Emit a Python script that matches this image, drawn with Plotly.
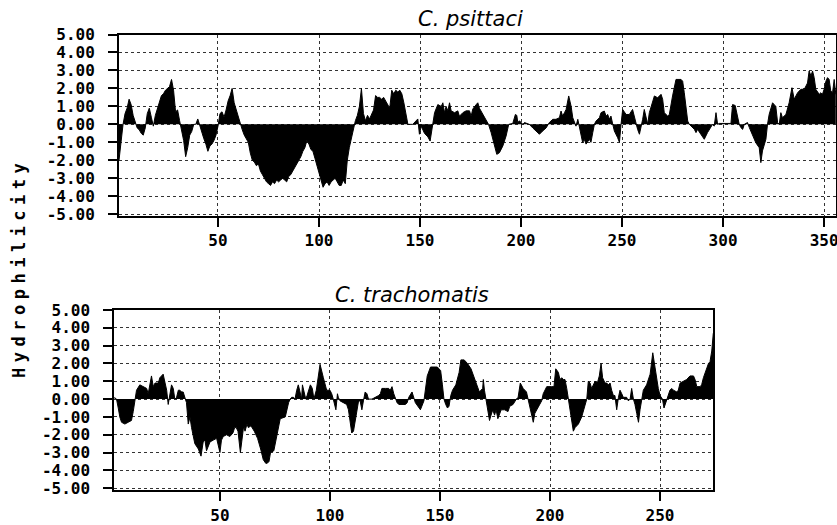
import plotly.graph_objects as go

# ---- C. psittaci (top) : residue position, hydrophilicity ----
psittaci_pos = [1, 2, 3, 4, 5, 6, 7, 8, 9, 10, 11, 12, 13, 14, 15, 16, 17, 18, 19, 20,
                21, 22, 23, 24, 25, 26, 27, 28, 29, 30, 31, 32, 33, 34, 35, 36, 37, 38, 39, 40,
                41, 42, 43, 44, 45, 46, 47, 48, 49, 50, 51, 52, 53, 54, 55, 56, 57, 58, 59, 60,
                61, 62, 63, 64, 65, 66, 67, 68, 69, 70, 71, 72, 73, 74, 75, 76, 77, 78, 79, 80,
                81, 82, 83, 84, 85, 86, 87, 88, 89, 90, 91, 92, 93, 94, 95, 96, 97, 98, 99, 100,
                101, 102, 103, 104, 105, 106, 107, 108, 109, 110, 111, 112, 113, 114, 115, 116, 117, 118, 119, 120,
                121, 122, 123, 124, 125, 126, 127, 128, 129, 130, 131, 132, 133, 134, 135, 136, 137, 138, 139, 140,
                141, 142, 143, 144,
                146.4, 148.9, 149.7, 150.6, 152.2, 153.9, 155.0, 156.3, 157.2, 158.8, 160.5, 161.3, 162.1, 162.9,
                163.8, 164.6, 165.4, 167.1, 168.7, 169.5, 171.2, 172.8, 174.5, 175.3, 176.1, 177.8, 178.6, 179.4,
                181.1, 182.7, 183.9, 185.2, 186.8, 188.0, 189.3, 191.0, 192.6, 193.9, 195.9, 197.2, 197.9, 198.4,
                199.2, 200.9, 201.7, 204.1, 205.8, 207.4, 209.1, 210.7, 212.4, 214.0, 215.7, 217.3, 219.0, 219.8,
                220.6, 221.5, 222.3, 223.6, 224.8, 225.6, 226.4, 227.2, 228.1, 228.9, 229.7, 230.5, 231.3, 232.2,
                233.8, 234.6, 235.5, 236.3, 237.1, 238.8, 239.6, 241.2, 242.1, 242.9, 243.7, 244.5, 245.4, 246.2,
                247.8, 248.7, 249.5, 250.3, 252.0, 253.6, 255.2, 256.1, 256.9, 257.7, 258.6, 259.4, 260.2, 261.0,
                261.8, 262.7, 263.5, 265.1, 266.0, 267.6, 269.3, 270.1, 270.9, 272.6, 273.4, 275.0, 276.7, 279.2,
                280.0, 280.8, 281.6, 282.5, 283.3, 284.1, 285.8, 286.6, 287.4, 289.0, 290.7, 292.3, 294.0, 294.8,
                295.6, 296.5, 297.3, 298.1, 303.9, 304.7, 306.0, 307.2, 308.0, 308.8, 309.7, 310.5, 312.1, 313.0,
                314.6, 316.2, 317.9, 318.7, 319.5, 320.4, 321.2, 322.0, 322.8, 324.5, 326.1, 327.0, 327.8, 328.6,
                329.4, 331.1, 332.7, 334.1, 335.2, 336.9, 338.5, 340.2, 341.8, 342.6, 343.5, 344.3, 345.1, 345.9,
                347.6, 348.4, 349.2, 350.0, 350.9, 351.7, 352.5, 353.3, 354.2, 355.0, 355.8]
psittaci_val = [-2.0, -0.8, 0.0, 0.6, 0.9, 1.4, 1.1, 0.5, 0.1, -0.2, -0.3, -0.5, -0.6, -0.2, 0.6, 0.9, 0.4, -0.1, 0.5, 0.9,
                1.3, 1.6, 1.7, 1.9, 2.0, 2.1, 2.5, 1.9, 0.7, 0.8, 0.2, -0.3, -0.9, -1.8, -1.3, -0.6, -0.4, 0.0, 0.0, 0.3,
                -0.1, -0.5, -0.8, -1.1, -1.5, -1.2, -1.1, -0.9, -0.6, -0.1, 0.6, 0.7, 0.4, 0.8, 1.3, 1.6, 2.0, 1.2, 0.8, 0.5,
                0.0, -0.3, -0.6, -0.8, -1.0, -1.6, -2.0, -2.1, -2.3, -2.2, -2.6, -2.8, -3.0, -3.2, -3.3, -3.4, -3.2, -3.3, -3.1, -3.2,
                -3.1, -3.0, -3.1, -3.2, -2.9, -2.8, -2.6, -2.4, -2.2, -2.0, -1.8, -1.5, -1.3, -0.9, -1.1, -1.4, -1.5, -1.9, -2.3, -2.6,
                -3.1, -3.5, -3.3, -3.2, -3.4, -3.2, -3.1, -3.0, -3.2, -3.4, -3.4, -3.1, -3.3, -2.0, -1.3, -0.8, -0.3, 0.2, 0.5, 1.0,
                2.0, 0.6, 0.2, 0.5, 0.3, 0.6, 0.8, 1.6, 1.5, 1.5, 1.4, 1.5, 1.3, 1.1, 0.9, 1.9, 1.7, 1.9, 1.8, 1.9,
                1.7, 1.2, 0.5, 0.0,
                0.0, 0.3, -0.55, -0.1, -0.5, -0.7, -0.93, -0.1, 0.65, 1.1, 1.0, 1.2, 0.65, 1.0,
                0.75, 1.2, 0.75, 0.65, 0.75, 0.45, 0.65, 0.75, 0.75, 0.45, 0.85, 1.1, 1.2, 0.9,
                0.55, 0.2, 0.0, -0.46, -1.2, -1.67, -1.58, -1.2, -0.65, 0.0, 0.05, 0.55, 0.5, 0.1,
                0.2, 0.0, 0.1, 0.0, -0.2, -0.37, -0.55, -0.37, -0.2, 0.1, 0.28, 0.28, 0.37, 0.74,
                0.46, 0.65, 0.83, 1.58, 1.0, 0.37, 0.1, -0.1, 0.28, -0.2, -0.65, -1.02, -0.83, -1.1,
                -0.83, -1.0, -0.46, 0.0, 0.18, 0.37, 0.65, 0.74, 0.46, 0.55, 0.28, 0.46, 0.0, -0.37,
                -0.74, -1.0, 0.0, 0.83, 0.55, 0.55, 0.83, 0.37, 0.0, -0.28, -0.55, -0.18, 0.28, 0.83,
                0.37, 0.0, 0.65, 1.2, 1.58, 1.48, 1.67, 1.39, 0.65, 0.46, 0.55, 1.58, 2.5, 2.5,
                2.4, 1.76, 0.83, 0.18, 0.0, -0.1, -0.28, -0.46, -0.28, -0.55, -0.83, -0.46, -0.1, 0.0,
                -0.1, 0.65, 0.0, 0.05, 0.05, 1.1, 1.05, 0.46, 0.0, -0.18, -0.28, 0.0, 0.1, -0.18,
                -0.65, -1.02, -1.3, -2.13, -1.48, -1.11, -0.83, 0.0, 0.55, 1.2, 1.0, 0.1, 0.0, 0.65,
                0.37, 0.55, 1.2, 2.04, 1.4, 1.76, 1.95, 1.95, 2.3, 2.97, 2.7, 2.97, 2.6, 1.95,
                1.67, 1.76, 1.67, 1.95, 2.4, 2.6, 2.5, 1.86, 1.76, 2.5, 1.67]

# ---- C. trachomatis (bottom) ----
trach_pos = [2.0, 3.0, 3.8, 4.5, 5.3, 6.8, 8.3, 9.8, 10.6, 11.4, 12.1, 13.6, 15.2, 16.7, 17.4, 18.2, 18.9, 19.7,
             20.5, 22.0, 22.7, 24.2, 25.0, 25.8, 26.5, 27.3, 28.0, 28.8, 29.5, 30.3, 31.1, 31.8, 32.6, 33.3,
             34.1, 34.8, 35.6, 36.4, 37.1, 37.9, 38.6, 40.2, 41.4, 42.4, 43.2, 43.9, 44.7, 45.5, 47.0, 48.5,
             50.0, 50.7, 51.5, 53.0, 54.5, 55.9, 56.7, 57.4, 58.2, 58.9, 59.3, 59.9, 60.8, 61.4, 62.3, 62.9,
             64.1, 65.6, 67.1, 68.5, 69.7, 70.8, 71.5, 72.3, 73.0, 74.5, 75.2, 76.0, 76.7, 77.4, 79.7, 80.4,
             81.2, 81.9, 82.6, 83.4, 84.1, 84.9, 85.6, 86.4, 87.1, 87.5, 88.3, 89.0, 89.6, 90.5, 91.1, 92.0,
             92.7, 93.8, 94.5, 95.5, 97.0, 97.7, 98.5, 100.0, 100.8, 101.5, 102.3, 102.7, 103.4, 103.8, 104.6,
             106.1, 107.6, 108.4, 109.1, 109.9, 110.7, 111.4, 112.2, 113.0, 113.7, 114.5, 115.2, 116.0, 116.8,
             117.5, 119.1, 120.6, 121.3, 122.1, 122.9, 123.6, 125.2, 126.7, 127.4, 128.2, 129.0, 129.7, 130.5,
             131.3, 134.3, 135.1, 135.8, 137.3, 138.8, 141.1, 142.7, 144.2, 145.7, 148.8, 150.3, 151.1, 151.8,
             152.6, 153.4, 154.1, 154.9, 155.7, 157.2, 158.7, 159.5, 161.0, 162.5, 164.1, 165.6, 167.1, 167.9,
             169.4, 169.7, 170.2, 170.9, 171.7, 172.5, 173.2, 174.0, 174.8, 175.5, 176.3, 177.1, 177.8, 179.4,
             180.9, 181.7, 183.2, 184.7, 185.5, 186.5, 187.8, 189.3, 190.1, 190.8, 191.6, 192.4, 193.1, 194.6,
             196.2, 196.9, 198.5, 200.8, 201.8, 202.6, 203.8, 204.5, 205.3, 206.1, 206.8, 207.6, 208.3, 209.1,
             209.8, 210.6, 211.4, 212.9, 214.4, 215.9, 216.7, 217.4, 218.2, 218.9, 220.5, 221.5, 222.4, 223.2,
             223.9, 225.0, 225.8, 226.5, 227.3, 228.0, 228.8, 229.5, 230.3, 231.1, 231.8, 232.6, 233.3, 234.8,
             235.6, 236.4, 237.1, 237.9, 238.6, 239.4, 240.2, 240.9, 241.7, 242.4, 243.9, 245.5, 246.7, 247.7,
             248.5, 249.2, 250.0, 251.1, 251.8, 252.6, 253.3, 254.5, 255.3, 256.1, 257.6, 258.3, 259.1, 260.6,
             262.1, 263.6, 265.2, 265.9, 266.7, 268.2, 268.9, 269.7, 271.2, 272.0, 272.7, 273.5, 274.2]
trach_val = [0.1, 0.0, -0.5, -1.0, -1.3, -1.4, -1.3, -1.2, -0.7, 0.0, 0.5, 0.8, 0.7, 0.6, 0.3, 0.8, 1.3, 0.7,
             0.9, 0.9, 1.2, 1.4, 1.0, 0.5, -0.3, 0.2, 0.8, 0.6, 0.0, 0.1, 0.5, 0.5, 0.4, 0.4,
             0.0, -0.2, -1.4, -1.0, -1.6, -2.0, -2.5, -2.8, -3.2, -2.4, -2.3, -2.9, -2.6, -2.4, -2.3, -2.2,
             -3.0, -2.3, -2.1, -2.0, -2.1, -1.9, -1.6, -1.6, -1.8, -2.5, -3.0, -2.4, -1.5, -1.8, -1.4, -1.6,
             -1.5, -1.8, -2.2, -2.8, -3.4, -3.6, -3.6, -3.5, -3.0, -2.9, -2.5, -2.0, -1.5, -1.1, -1.0, -0.6,
             -0.2, 0.0, 0.1, 0.1, 0.0, 0.5, 0.8, 0.4, 0.0, 0.8, 0.3, 0.0, 0.2, 0.5, 0.8, 0.6,
             0.0, 0.5, 1.0, 1.95, 1.2, 0.8, 0.5, 0.5, 0.3, 0.0, -0.5, -0.6, 0.3, 0.1, -0.1,
             -0.2, -0.3, -0.6, -1.2, -1.9, -1.8, -1.2, -0.5, -0.1, -0.1, -0.6, -0.1, 0.4, 0.3,
             0.0, 0.0, 0.1, 0.1, 0.2, 0.3, 0.6, 0.6, 0.6, 0.5, 0.7, 0.3, 0.1, -0.2,
             -0.3, -0.3, -0.2, 0.1, 0.4, -0.2, -0.6, -0.1, 1.3, 1.8, 1.8, 1.6, 0.8, 0.0,
             -0.3, -0.5, -0.4, 0.2, 0.5, 0.8, 1.5, 2.2, 2.2, 2.0, 1.7, 1.2, 0.7, 0.4,
             0.6, 1.1, 0.5, 0.0, -0.5, -1.2, -0.9, -0.6, -0.9, -0.6, -1.1, -0.8, -0.6, -0.6,
             -0.7, -0.4, -0.3, 0.0, 0.1, 0.9, 0.6, 0.4, 0.0, -0.4, -0.9, -1.3, -0.8, -0.5,
             -0.1, 0.3, 0.7, 0.7, 0.7, 1.7, 1.5, 1.1, 1.2, 1.1, 1.1, 0.6, 0.0, -0.5,
             -1.0, -1.8, -1.6, -1.4, -1.0, -0.3, 0.0, 1.0, 0.9, 0.6, 1.0, 0.9, 1.3, 2.0,
             1.2, 0.9, 0.9, 0.8, 0.9, 0.5, 0.2, 0.2, -0.6, 0.1, 0.5, 0.3, 0.1, 0.1,
             -0.1, 0.0, 0.6, 0.0, -0.3, -0.8, -1.3, -0.6, 0.0, 0.5, 0.8, 1.4, 2.6, 1.8,
             1.0, 0.6, 0.2, 0.0, -0.5, -0.2, 0.1, 0.5, 0.6, 0.5, 0.4, 0.5, 0.9, 1.0,
             1.1, 1.3, 1.3, 1.1, 0.7, 0.7, 0.8, 1.2, 1.7, 2.0, 2.1, 2.7, 3.7]

x_ticks_top = [50, 100, 150, 200, 250, 300, 350]
x_ticks_bottom = [50, 100, 150, 200, 250]
y_ticks = [5, 4, 3, 2, 1, 0, -1, -2, -3, -4, -5]
y_tick_labels = ["5.00", "4.00", "3.00", "2.00", "1.00", "0.00",
                 "-1.00", "-2.00", "-3.00", "-4.00", "-5.00"]
titles = ["C. psittaci", "C. trachomatis"]
y_title = "Hydrophilicity"

W, H = 837, 525
fig = go.Figure()
fig.add_trace(go.Scatter(x=psittaci_pos, y=psittaci_val, mode="lines", fill="tozeroy",
                         line=dict(color="black", width=1), fillcolor="black",
                         xaxis="x", yaxis="y", hoverinfo="skip"))
fig.add_trace(go.Scatter(x=trach_pos, y=trach_val, mode="lines", fill="tozeroy",
                         line=dict(color="black", width=1), fillcolor="black",
                         xaxis="x2", yaxis="y2", hoverinfo="skip"))

tickfont = dict(family="DejaVu Sans Mono", size=16, color="black")
common = dict(showline=True, mirror=True, linecolor="black", linewidth=2,
              ticks="outside", ticklen=9, tickwidth=2, tickcolor="black",
              showgrid=True, gridcolor="#333", gridwidth=1, griddash="dot",
              zeroline=False, tickfont=tickfont, ticklabeloverflow="allow")
common_y = dict(common, range=[-5.1, 5.0], tickvals=y_ticks,
                ticktext=["<b>%s</b>" % t for t in y_tick_labels],
                ticklabelstandoff=10)

def px(x):
    return x / W

def py(y):
    return 1 - y / H

fig.update_layout(
    width=W, height=H, autosize=False,
    margin=dict(l=0, r=0, t=0, b=0, autoexpand=False),
    paper_bgcolor="white", plot_bgcolor="white", showlegend=False,
    xaxis=dict(common, domain=[px(119), px(836)], range=[1, 355.9],
               tickvals=x_ticks_top, ticktext=["<b>%d</b>" % t for t in x_ticks_top],
               ticklabelstandoff=0, anchor="y"),
    yaxis=dict(common_y, domain=[py(216), py(34.5)], anchor="x"),
    xaxis2=dict(common, domain=[px(114.3), px(713.3)], range=[2, 274.2],
                tickvals=x_ticks_bottom, ticktext=["<b>%d</b>" % t for t in x_ticks_bottom],
                ticklabelstandoff=1, anchor="y2"),
    yaxis2=dict(common_y, domain=[py(490), py(310)], anchor="x2"),
    annotations=[
        dict(text="<i>%s</i>" % titles[0], x=px(470), y=py(33), xref="paper", yref="paper",
             xanchor="center", yanchor="bottom", showarrow=False,
             font=dict(family="DejaVu Sans", size=21, color="black")),
        dict(text="<i>%s</i>" % titles[1], x=px(412), y=py(308.5), xref="paper", yref="paper",
             xanchor="center", yanchor="bottom", showarrow=False,
             font=dict(family="DejaVu Sans", size=21, color="black")),
        dict(text='<span style="letter-spacing:5.5px"><b>%s</b></span>' % y_title,
             x=px(19), y=py(268), xref="paper", yref="paper",
             xanchor="center", yanchor="middle", textangle=-90, showarrow=False,
             font=dict(family="DejaVu Sans Mono", size=17, color="black")),
    ],
)

fig.write_html("out.html", config={"displayModeBar": False},
               post_script="document.body.style.margin='0px';document.body.style.overflow='hidden';")
